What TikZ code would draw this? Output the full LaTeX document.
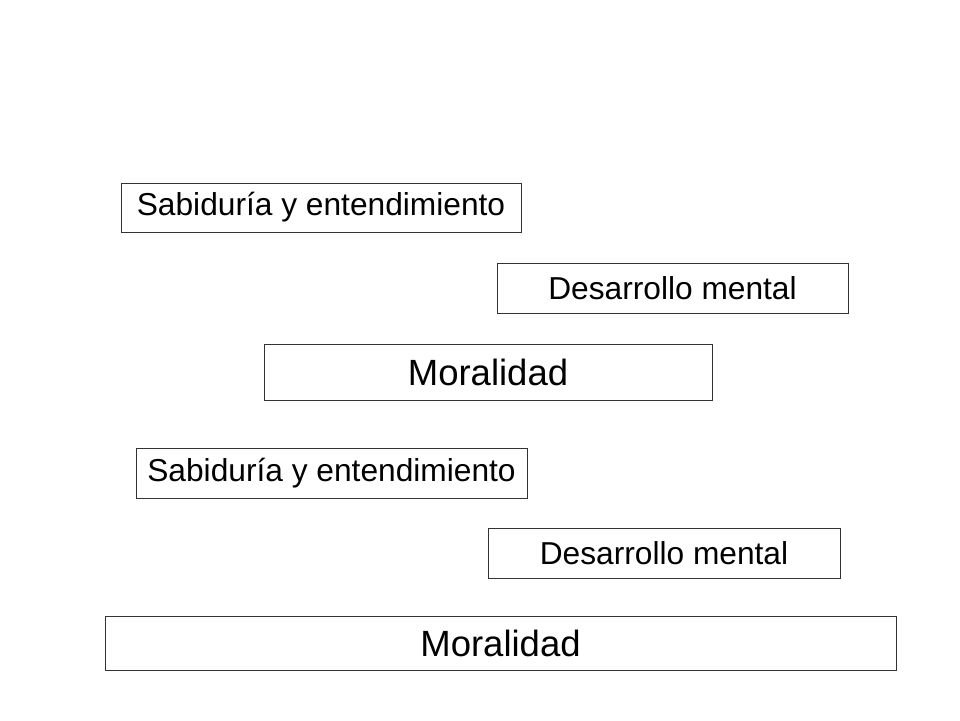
\documentclass[tikz,border=0pt]{standalone}
\usepackage{fontspec}
\setmainfont{Liberation Sans}
\begin{document}
\begin{tikzpicture}[x=1pt,y=-1pt,
  bx/.style={draw=black!80,line width=0.9pt,fill=white},
  sm/.style={font=\fontsize{31.7}{36}\selectfont},
  bg/.style={font=\fontsize{36.5}{42}\selectfont}]
\useasboundingbox (0,0) rectangle (960,720);
\draw[bx] (121,183) rectangle (521,232) node[sm,midway] (s1) {Sabiduría y entendimiento};
\draw[bx] (497,263) rectangle (848,313) node[sm,midway] (d1) {Desarrollo mental};
\draw[bx] (264,344) rectangle (712,400) node[bg,midway] (m1) {Moralidad};
\draw[bx] (136,448) rectangle (527,498) node[sm,midway] (s2) {Sabiduría y entendimiento};
\draw[bx] (488,528) rectangle (840,578) node[sm,midway] (d2) {Desarrollo mental};
\draw[bx] (105,616) rectangle (896,670) node[bg,midway] (m2) {Moralidad};
\end{tikzpicture}
\end{document}
